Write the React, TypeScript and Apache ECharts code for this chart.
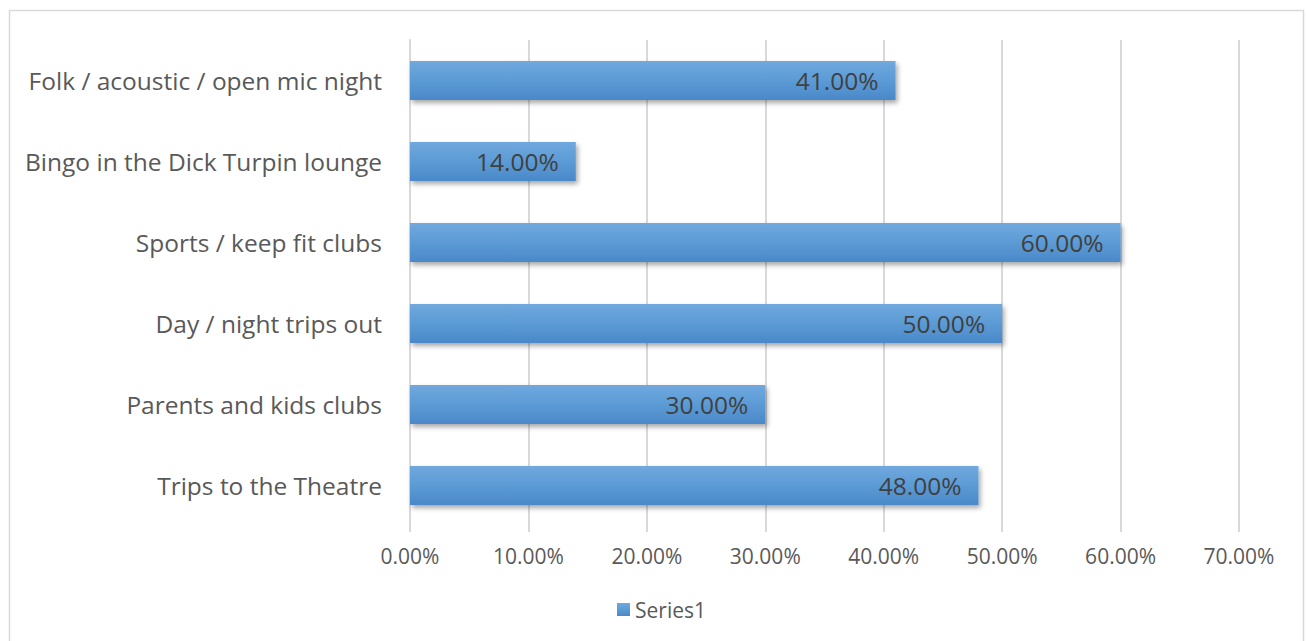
import React, { useEffect, useRef } from "react";
import * as echarts from "echarts";

const categories = [
  "Folk / acoustic / open mic night",
  "Bingo in the Dick Turpin lounge",
  "Sports / keep fit clubs",
  "Day / night trips out",
  "Parents and kids clubs",
  "Trips to the Theatre",
];
const values = [0.41, 0.14, 0.6, 0.5, 0.3, 0.48];
const seriesName = "Series1";
const FONT = "'Open Sans', Lato, sans-serif";

export default function App() {
  const ref = useRef<HTMLDivElement>(null);
  useEffect(() => {
    const chart = echarts.init(ref.current!, null, { renderer: "svg" });
    chart.setOption({
      animation: false,
      backgroundColor: "#ffffff",
      graphic: [
        {
          type: "rect",
          shape: { x: 9.5, y: 10.5, width: 1294, height: 660 },
          style: { fill: "none", stroke: "#d9d9d9", lineWidth: 1.5 },
          silent: true,
        },
      ],
      legend: {
        data: [seriesName],
        bottom: 16,
        left: 612,
        icon: "rect",
        itemWidth: 13,
        itemHeight: 13,
        itemGap: 4,
        textStyle: { color: "#595959", fontSize: 21, fontFamily: FONT },
      },
      grid: { left: 410, right: 67, top: 40, bottom: 115, containLabel: false },
      xAxis: {
        type: "value",
        min: 0,
        max: 0.7,
        interval: 0.1,
        axisLine: { show: false },
        axisTick: { show: true, length: 6, lineStyle: { color: "#d9d9d9", width: 2 } },
        splitLine: { show: true, lineStyle: { color: "#d9d9d9", width: 2 } },
        axisLabel: {
          color: "#595959",
          fontSize: 21,
          fontFamily: FONT,
          margin: 19,
          formatter: (v: number) => (v * 100).toFixed(2) + "%",
        },
      },
      yAxis: {
        type: "category",
        data: categories,
        inverse: true,
        axisLine: { show: true, lineStyle: { color: "#d9d9d9", width: 2 } },
        axisTick: { show: false },
        axisLabel: {
          color: "#595959",
          fontSize: 24.5,
          fontFamily: FONT,
          margin: 28,
          padding: [0, 0, 4, 0],
        },
      },
      series: [
        {
          name: seriesName,
          type: "bar",
          data: values,
          barWidth: 39,
          itemStyle: {
            color: new echarts.graphic.LinearGradient(0, 0, 0, 1, [
              { offset: 0, color: "#71a8de" },
              { offset: 0.5, color: "#5b9bd5" },
              { offset: 1, color: "#4a88c9" },
            ]),
            shadowColor: "rgba(0,0,0,0.35)",
            shadowBlur: 5,
            shadowOffsetX: 2,
            shadowOffsetY: 3,
          },
          label: {
            show: true,
            position: "insideRight",
            distance: 17,
            color: "#404040",
            fontSize: 24.5,
            fontFamily: FONT,
            padding: [0, 0, 2, 0],
            formatter: (p: any) => (p.value * 100).toFixed(2) + "%",
          },
        },
      ],
    });
    return () => chart.dispose();
  }, []);
  return (
    <div
      ref={ref}
      style={{ position: "absolute", left: 0, top: 0, width: 1306, height: 641 }}
    />
  );
}
